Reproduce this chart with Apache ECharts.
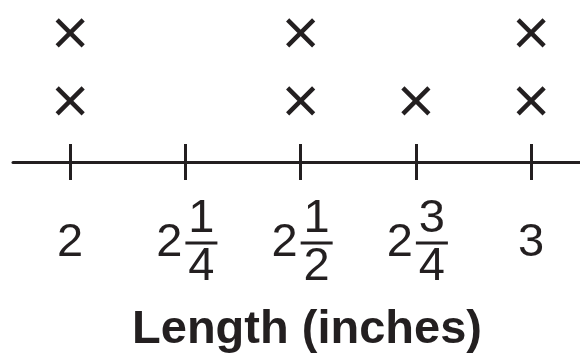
<!DOCTYPE html>
<html>
<head>
<meta charset="utf-8">
<script src="https://cdn.jsdelivr.net/npm/echarts@6/dist/echarts.min.js"></script>
<style>
  html, body { margin: 0; padding: 0; background: #fff; }
  #main { width: 580px; height: 361px; }
</style>
</head>
<body>
<div id="main"></div>
<script>
// line plot data
const lengths = [2, 2.25, 2.5, 2.75, 3];
const counts = [2, 0, 2, 1, 2];
const tickLabels = [
  { whole: '2', num: '', den: '' },
  { whole: '2', num: '1', den: '4' },
  { whole: '2', num: '1', den: '2' },
  { whole: '2', num: '3', den: '4' },
  { whole: '3', num: '', den: '' }
];
const axisTitle = 'Length (inches)';

const ink = '#231f20';
const font = 'Liberation Sans';

// one X per measurement, stacked above its length
const points = [];
lengths.forEach(function (v, i) {
  for (let k = 1; k <= counts[i]; k++) points.push([v, k]);
});

function labelFor(value) {
  const i = lengths.findIndex(function (v) { return Math.abs(v - value) < 1e-6; });
  if (i < 0) return '';
  const t = tickLabels[i];
  if (!t.num) return '{n| }\n{w|' + t.whole + '}\n{n| }';
  return '{sp| }{n|' + t.num + '}\n{w|' + t.whole + '}{bar| }\n{sp| }{n|' + t.den + '}';
}

const chart = echarts.init(document.getElementById('main'));
chart.setOption({
  animation: false,
  backgroundColor: '#fff',
  grid: { left: 13, right: 0, top: 0, bottom: 199 },
  title: {
    text: axisTitle,
    left: 302,
    top: 302,
    textAlign: 'center',
    textStyle: { fontFamily: font, fontSize: 47, fontWeight: 'bold', color: ink }
  },
  xAxis: [{
    type: 'value',
    min: 1.876,
    max: 3.106,
    splitLine: { show: false },
    axisLine: { onZero: false, lineStyle: { color: ink, width: 3 } },
    axisTick: { show: true, customValues: lengths, length: 18, lineStyle: { color: ink, width: 3 } },
    axisLabel: {
      customValues: lengths,
      margin: 36,
      formatter: labelFor,
      rich: {
        w: { fontFamily: font, fontSize: 47, color: ink, lineHeight: 6, width: 32, align: 'center' },
        n: { fontFamily: font, fontSize: 47, color: ink, lineHeight: 42, width: 32, align: 'center' },
        sp: { fontSize: 10, lineHeight: 42, width: 32 },
        bar: { width: 32, height: 3, lineHeight: 6, backgroundColor: ink }
      }
    }
  }, {
    type: 'value',
    min: 1.876,
    max: 3.106,
    position: 'bottom',
    offset: 0,
    splitLine: { show: false },
    axisLine: { show: false },
    axisTick: { show: true, inside: true, customValues: lengths, length: 18, lineStyle: { color: ink, width: 3 } },
    axisLabel: { show: false }
  }],
  yAxis: {
    type: 'value',
    min: 0.1,
    max: 2.485,
    show: false
  },
  series: [{
    type: 'scatter',
    xAxisIndex: 0,
    data: points,
    symbol: 'path://M0,0L10,10M10,0L0,10',
    symbolSize: 26,
    itemStyle: { color: 'none', borderColor: ink, borderWidth: 4.5, opacity: 1 }
  }]
});
</script>
</body>
</html>
